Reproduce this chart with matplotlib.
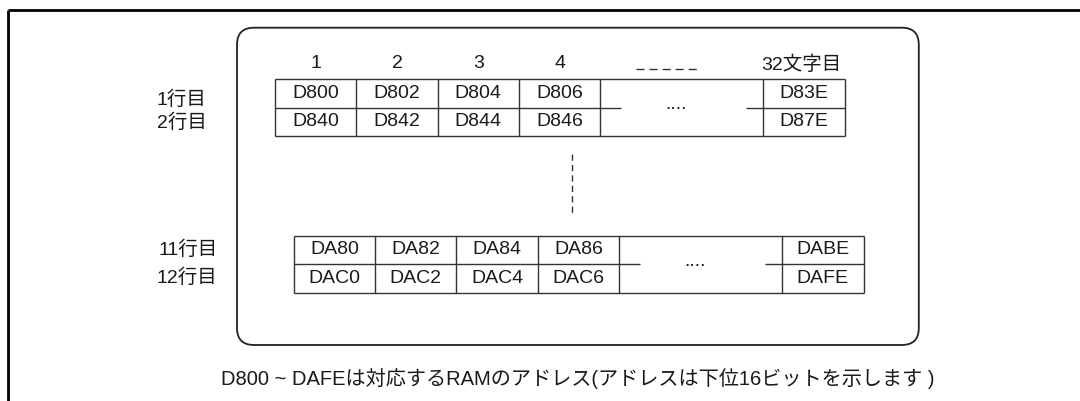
import matplotlib.pyplot as plt
from matplotlib.patches import FancyBboxPatch

plt.rcParams['font.family'] = ['Liberation Sans', 'Noto Sans CJK JP', 'DejaVu Sans']

# 表の中身
col_heads = ['1', '2', '3', '4']
last_head = '32文字目'
top_rows = [['D800', 'D802', 'D804', 'D806'], ['D840', 'D842', 'D844', 'D846']]
top_last = ['D83E', 'D87E']
bottom_rows = [['DA80', 'DA82', 'DA84', 'DA86'], ['DAC0', 'DAC2', 'DAC4', 'DAC6']]
bottom_last = ['DABE', 'DAFE']
top_labels = ['1行目', '2行目']
bottom_labels = ['11行目', '12行目']
caption = 'D800 ~ DAFEは対応するRAMのアドレス(アドレスは下位16ビットを示します )'

CW = 81.3     # セル幅
GAP = 162.7   # 省略部分の幅
LAST = 82.0   # 最後のセル幅
RH = 28.4     # 行の高さ
LC = '#333333'
TC = '#1a1a1a'
FS = 14


def line(ax, xs, ys, lw=1.0, **kw):
    ax.plot(xs, ys, color=LC, lw=lw, solid_capstyle='butt', **kw)


def draw_table(ax, x0, y0, rows, last):
    """2行分の表を描く"""
    xg = x0 + 4 * CW
    xl = xg + GAP
    xe = xl + LAST
    y1 = y0 + RH
    y2 = y0 + 2 * RH
    line(ax, [x0, xe], [y0, y0])
    line(ax, [x0, xe], [y2, y2])
    line(ax, [x0, xg + 21], [y1, y1])
    line(ax, [xl - 16.5, xe], [y1, y1])
    for x in [x0 + CW * i for i in range(5)] + [xl, xe]:
        line(ax, [x, x], [y0, y2])
    for r, row in enumerate(rows):
        yc = y0 + RH * (r + 0.5)
        for i, s in enumerate(row):
            ax.text(x0 + CW * (i + 0.5), yc, s, ha='center', va='center',
                    fontsize=FS, color=TC)
        ax.text(xl + LAST / 2, yc, last[r], ha='center', va='center',
                fontsize=FS, color=TC)
    ax.text(xg + GAP / 2 - 5.5, y1 + 1.5, '....', ha='center', va='baseline',
            fontsize=FS, color=TC)
    return xg


fig = plt.figure(figsize=(10.8, 4.01), dpi=100)
ax = fig.add_axes([0, 0, 1, 1])
ax.set_xlim(0, 1080)
ax.set_ylim(401, 0)
ax.axis('off')

# 外枠
ax.plot([8, 1080], [10, 10], color='black', lw=2.0, solid_capstyle='butt')
ax.plot([8, 8], [10, 401], color='black', lw=2.0, solid_capstyle='butt')

# 角丸の枠
box = FancyBboxPatch((237, 27.7), 918.8 - 237, 345 - 27.7,
                     boxstyle='round,pad=0,rounding_size=17',
                     fill=False, ec='#222222', lw=1.3)
ax.add_patch(box)

# 上の表
tx0 = 275
xg = draw_table(ax, tx0, 79.3, top_rows, top_last)
for i, s in enumerate(col_heads):
    ax.text(tx0 + CW * (i + 0.5), 64, s, ha='center', va='center',
            fontsize=FS, color=TC)
ax.text(xg + GAP + LAST / 2 - 3, 64.5, last_head, ha='center', va='center',
        fontsize=FS, color=TC)
ax.plot([636, 699], [69, 69], color=LC, lw=1.0, linestyle=(0, (5.8, 3.6)))
for r, s in enumerate(top_labels):
    ax.text(206.7, [100, 123][r], s, ha='right', va='center',
            fontsize=FS, color=TC)

# 縦の点線
ax.plot([572, 572], [154, 214], color=LC, lw=1.0, linestyle=(0, (4.5, 3)))

# 下の表
draw_table(ax, 293.8, 235.7, bottom_rows, bottom_last)
for r, s in enumerate(bottom_labels):
    ax.text(217.7, [250, 277.3][r], s, ha='right', va='center',
            fontsize=FS, color=TC)

# 説明文
ax.text(578, 379, caption, ha='center', va='center', fontsize=14.5, color=TC)

fig.savefig('out.png', dpi=100)
